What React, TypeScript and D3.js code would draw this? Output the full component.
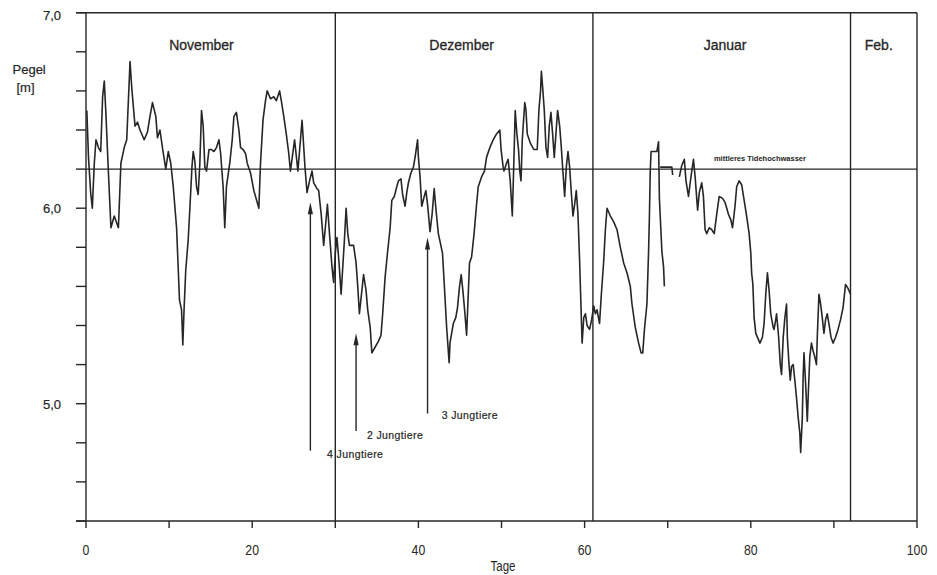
import {useEffect, useRef} from "react";
import * as d3 from "d3";

// Pegel (m) against day; null marks a break in the record
const pegel: ([number, number] | null)[] = [
    [0.1, 6.50], [0.3, 6.26], [0.56, 6.08], [0.76, 6.00], [1.0, 6.23], [1.2, 6.35], [1.5, 6.31], [1.77, 6.29],
    [2.0, 6.57], [2.2, 6.65], [2.4, 6.48], [2.7, 6.18], [3.0, 5.90], [3.4, 5.96], [3.9, 5.90], [4.2, 6.23],
    [4.6, 6.31], [4.9, 6.35], [5.1, 6.55], [5.3, 6.75], [5.5, 6.62], [5.9, 6.42], [6.2, 6.44], [6.5, 6.40],
    [7.0, 6.35], [7.4, 6.39], [7.7, 6.47], [8.0, 6.54], [8.4, 6.47], [8.6, 6.36], [8.9, 6.40], [9.2, 6.31],
    [9.6, 6.20], [9.9, 6.29], [10.2, 6.23], [10.5, 6.11], [10.9, 5.90], [11.25, 5.53], [11.5, 5.48], [11.65, 5.30],
    [11.8, 5.48], [12.0, 5.68], [12.3, 5.84], [12.5, 6.00], [12.75, 6.21], [12.9, 6.29], [13.1, 6.24], [13.3, 6.11],
    [13.5, 6.07], [13.7, 6.23], [13.9, 6.50], [14.1, 6.42], [14.3, 6.21], [14.5, 6.19], [14.8, 6.30], [15.1, 6.30],
    [15.4, 6.29], [15.7, 6.31], [16.0, 6.35], [16.2, 6.28], [16.5, 6.11], [16.7, 5.90], [16.9, 6.11], [17.3, 6.23],
    [17.6, 6.35], [17.8, 6.47], [18.1, 6.49], [18.4, 6.40], [18.6, 6.31], [18.9, 6.30], [19.2, 6.28], [19.4, 6.23],
    [19.8, 6.18], [20.2, 6.09], [20.6, 6.03], [20.8, 6.00], [21.0, 6.23], [21.3, 6.45], [21.6, 6.55], [21.8, 6.60],
    [22.2, 6.56], [22.6, 6.57], [22.9, 6.55], [23.3, 6.60], [23.5, 6.55], [23.8, 6.47], [24.1, 6.38], [24.4, 6.28],
    [24.6, 6.19], [25.1, 6.35], [25.5, 6.19], [26.0, 6.45], [26.35, 6.21], [26.6, 6.08], [26.9, 6.14], [27.2, 6.19],
    [27.4, 6.13], [27.8, 6.10], [28.0, 6.09], [28.3, 5.97], [28.6, 5.81], [28.8, 5.90], [29.05, 6.02], [29.3, 5.87],
    [29.6, 5.70], [29.8, 5.62], [30.0, 5.77], [30.2, 5.85], [30.45, 5.72], [30.7, 5.56], [30.9, 5.70], [31.1, 5.84],
    [31.3, 6.00], [31.5, 5.87], [31.7, 5.81], [32.2, 5.81], [32.5, 5.72], [32.7, 5.60], [32.9, 5.46], [33.1, 5.54],
    [33.4, 5.66], [33.7, 5.58], [33.9, 5.48], [34.2, 5.39], [34.4, 5.26], [34.8, 5.29], [35.2, 5.32], [35.5, 5.35],
    [35.7, 5.46], [36.0, 5.65], [36.3, 5.78], [36.6, 5.90], [36.8, 6.04], [37.1, 6.06], [37.4, 6.11], [37.6, 6.14],
    [37.9, 6.15], [38.1, 6.07], [38.4, 6.01], [38.6, 6.08], [38.8, 6.13], [39.1, 6.18], [39.4, 6.21], [39.6, 6.26],
    [39.9, 6.35], [40.0, 6.26], [40.2, 6.16], [40.4, 6.01], [40.7, 6.06], [40.9, 6.09], [41.1, 6.02], [41.4, 5.88],
    [41.65, 5.97], [41.9, 6.10], [42.1, 6.00], [42.4, 5.87], [42.6, 5.83], [42.9, 5.77], [43.1, 5.62], [43.4, 5.39],
    [43.7, 5.21], [43.8, 5.31], [44.0, 5.36], [44.2, 5.41], [44.5, 5.44], [44.7, 5.49], [44.95, 5.60], [45.15, 5.66],
    [45.35, 5.58], [45.6, 5.46], [45.8, 5.35], [46.0, 5.56], [46.15, 5.72], [46.4, 5.75], [46.7, 5.87], [47.0, 6.02],
    [47.2, 6.11], [47.6, 6.16], [47.95, 6.19], [48.2, 6.26], [48.6, 6.31], [49.0, 6.35], [49.4, 6.38], [49.8, 6.40],
    [49.95, 6.30], [50.2, 6.21], [50.3, 6.19], [50.6, 6.23], [50.8, 6.25], [51.05, 6.14], [51.3, 5.96], [51.45, 6.18],
    [51.65, 6.50], [51.85, 6.38], [52.05, 6.30], [52.2, 6.19], [52.35, 6.14], [52.5, 6.35], [52.8, 6.54], [52.95, 6.50],
    [53.1, 6.38], [53.5, 6.33], [53.9, 6.30], [54.3, 6.30], [54.5, 6.50], [54.7, 6.60], [54.8, 6.70], [54.95, 6.62],
    [55.15, 6.50], [55.35, 6.31], [55.55, 6.26], [55.75, 6.42], [55.95, 6.49], [56.15, 6.38], [56.35, 6.26], [56.55, 6.38],
    [56.75, 6.50], [57.0, 6.42], [57.2, 6.31], [57.4, 6.18], [57.6, 6.06], [57.8, 6.21], [58.0, 6.29], [58.2, 6.21],
    [58.4, 6.08], [58.6, 5.96], [58.8, 6.02], [59.0, 6.09], [59.2, 5.97], [59.4, 5.73], [59.6, 5.45], [59.7, 5.31],
    [59.9, 5.44], [60.1, 5.46], [60.3, 5.40], [60.6, 5.38], [60.85, 5.43], [61.1, 5.50], [61.3, 5.46], [61.5, 5.48],
    [61.8, 5.41], [62.0, 5.55], [62.3, 5.73], [62.5, 5.89], [62.7, 6.00], [63.1, 5.96], [63.5, 5.93], [63.9, 5.89],
    [64.3, 5.80], [64.7, 5.72], [65.1, 5.67], [65.5, 5.60], [65.7, 5.51], [66.1, 5.39], [66.5, 5.31], [66.8, 5.26],
    [67.0, 5.26], [67.2, 5.38], [67.5, 5.51], [67.7, 5.78], [67.8, 5.96], [67.9, 6.19], [68.0, 6.29], [68.7, 6.29],
    [68.9, 6.34], [69.0, 6.05], [69.3, 5.78], [69.5, 5.70], [69.6, 5.60],
    null,
    [69.1, 6.21], [70.5, 6.21], [70.6, 6.17],
    null,
    [71.4, 6.16], [71.7, 6.22], [72.0, 6.25], [72.2, 6.14], [72.5, 6.06], [72.8, 6.16], [73.1, 6.25], [73.3, 6.16],
    [73.6, 5.99], [73.8, 6.08], [74.1, 6.13], [74.3, 6.06], [74.5, 5.89], [74.7, 5.87], [75.0, 5.90], [75.3, 5.89],
    [75.6, 5.87], [75.9, 5.97], [76.2, 6.06], [76.6, 6.05], [76.9, 6.03], [77.3, 5.97], [77.6, 5.94], [77.8, 5.90],
    [78.1, 6.01], [78.3, 6.11], [78.6, 6.14], [78.9, 6.12], [79.2, 6.04], [79.5, 5.96], [79.8, 5.87], [80.0, 5.77],
    [80.1, 5.67], [80.25, 5.61], [80.4, 5.44], [80.6, 5.36], [80.9, 5.33], [81.1, 5.31], [81.4, 5.34], [81.6, 5.41],
    [81.8, 5.56], [82.0, 5.67], [82.2, 5.58], [82.4, 5.46], [82.7, 5.39], [82.8, 5.38], [83.0, 5.43], [83.1, 5.46],
    [83.35, 5.34], [83.55, 5.20], [83.7, 5.15], [83.9, 5.34], [84.1, 5.44], [84.3, 5.51], [84.4, 5.34], [84.6, 5.20],
    [84.75, 5.12], [84.9, 5.19], [85.1, 5.20], [85.3, 5.12], [85.5, 5.03], [85.7, 4.93], [85.9, 4.85], [86.0, 4.75],
    [86.2, 4.93], [86.3, 5.14], [86.4, 5.26], [86.6, 5.10], [86.8, 4.91], [86.9, 5.03], [87.1, 5.24], [87.3, 5.31],
    [87.5, 5.27], [87.7, 5.24], [87.9, 5.20], [88.0, 5.34], [88.2, 5.56], [88.4, 5.51], [88.6, 5.44], [88.8, 5.36],
    [89.0, 5.43], [89.2, 5.46], [89.4, 5.41], [89.65, 5.34], [89.9, 5.31], [90.2, 5.34], [90.5, 5.38], [90.8, 5.43],
    [91.1, 5.49], [91.4, 5.61], [91.7, 5.59], [92.0, 5.56],
];

const xTicks = [0, 10, 20, 30, 40, 50, 60, 70, 80, 90, 100];
const xLabels = [0, 20, 40, 60, 80, 100];
const yTicks = [4.4, 4.6, 4.8, 5.0, 5.2, 5.4, 5.6, 5.8, 6.0, 6.2, 6.4, 6.6, 6.8, 7.0];
const yLabels = [5.0, 6.0, 7.0];

const monthBreaks = [30, 61, 92];
const monthNames = ["November", "Dezember", "Januar", "Feb."];
const monthLabelDays = [13.9, 45.2, 76.9, 95.4];

const mthw = 6.2;
const mthwLabel = "mittleres Tidehochwasser";

// arrows: day, head value, tail value, label start day, label baseline value
const arrowDays = [27.0, 32.5, 41.1];
const arrowHeads = [6.03, 5.36, 5.85];
const arrowTails = [4.76, 4.86, 4.95];
const arrowLabels = ["4 Jungtiere", "2 Jungtiere", "3 Jungtiere"];
const arrowLabelDays = [29.0, 33.8, 42.8];
const arrowLabelValues = [4.72, 4.82, 4.92];

const FONT = "'Liberation Sans', Arial, Helvetica, sans-serif";
const INK = "#262626";

export default function App() {
    const svgRef = useRef<SVGSVGElement | null>(null);

    useEffect(() => {
        if (!svgRef.current) return;
        const svg = d3.select(svgRef.current);
        svg.selectAll("*").remove();

        const x = d3.scaleLinear().domain([0, 100]).range([86, 917]);
        const y = d3.scaleLinear().domain([4.4, 7.0]).range([521, 12.7]);

        svg.append("rect").attr("width", 937).attr("height", 575).attr("fill", "#fff");

        const g = svg.append("g").attr("stroke", INK).attr("stroke-width", 1.4).attr("fill", "none");

        // frame
        g.append("line").attr("x1", x(0) - 10).attr("x2", x(100)).attr("y1", y(7)).attr("y2", y(7));
        g.append("line").attr("x1", x(0) - 10).attr("x2", x(100)).attr("y1", y(4.4)).attr("y2", y(4.4));
        g.append("line").attr("x1", x(0)).attr("x2", x(0)).attr("y1", y(7)).attr("y2", y(4.4));
        g.append("line").attr("x1", x(100)).attr("x2", x(100)).attr("y1", y(7)).attr("y2", y(4.4));

        // y ticks
        yTicks.forEach(t => {
            g.append("line").attr("x1", x(0) - 10).attr("x2", x(0)).attr("y1", y(t)).attr("y2", y(t));
        });
        // x ticks
        xTicks.forEach(t => {
            g.append("line").attr("x1", x(t)).attr("x2", x(t)).attr("y1", y(4.4)).attr("y2", y(4.4) + 7);
        });

        // month dividers
        monthBreaks.forEach(m => {
            g.append("line").attr("x1", x(m)).attr("x2", x(m)).attr("y1", y(7)).attr("y2", y(4.4));
        });

        // mean high tide line
        g.append("line").attr("x1", x(0)).attr("x2", x(100)).attr("y1", y(mthw)).attr("y2", y(mthw));

        // water level
        const line = d3.line<[number, number] | null>()
            .defined(d => d !== null)
            .x(d => x((d as [number, number])[0]))
            .y(d => y((d as [number, number])[1]))
            .curve(d3.curveLinear);
        g.append("path").datum(pegel).attr("d", line).attr("stroke-width", 1.6).attr("stroke-linejoin", "round");

        // arrows
        arrowDays.forEach((d, i) => {
            const ax = x(d);
            const hy = y(arrowHeads[i]);
            g.append("line").attr("x1", ax).attr("x2", ax).attr("y1", hy + 8).attr("y2", y(arrowTails[i]));
            svg.append("path")
                .attr("d", `M${ax},${hy} L${ax - 2.6},${hy + 12} L${ax + 2.6},${hy + 12} Z`)
                .attr("fill", INK);
            svg.append("text")
                .attr("x", x(arrowLabelDays[i])).attr("y", y(arrowLabelValues[i]))
                .attr("font-family", FONT).attr("font-size", 10.5).attr("fill", INK)
                .attr("letter-spacing", 0.4).attr("stroke", INK).attr("stroke-width", 0.2)
                .text(arrowLabels[i]);
        });

        // texts
        const txt = svg.append("g").attr("fill", INK).attr("font-family", FONT);

        monthNames.forEach((m, i) => {
            txt.append("text").attr("x", x(monthLabelDays[i])).attr("y", 50)
                .attr("text-anchor", "middle").attr("font-size", 14)
                .attr("stroke", INK).attr("stroke-width", 0.3).text(m);
        });

        txt.append("text").attr("x", x(81.1)).attr("y", y(6.24))
            .attr("text-anchor", "middle").attr("font-size", 7.5).attr("font-weight", "bold")
            .text(mthwLabel);

        yLabels.forEach(v => {
            txt.append("text").attr("x", 61).attr("y", y(v) + (v === 7 ? 7 : 5))
                .attr("text-anchor", "end").attr("font-size", 13)
                .attr("stroke", INK).attr("stroke-width", 0.2)
                .text(d3.format(".1f")(v).replace(".", ","));
        });

        txt.append("text").attr("x", 12.5).attr("y", 74).attr("font-size", 13)
            .attr("stroke", INK).attr("stroke-width", 0.2).text("Pegel");
        txt.append("text").attr("x", 16.5).attr("y", 92).attr("font-size", 13)
            .attr("stroke", INK).attr("stroke-width", 0.2).text("[m]");

        // condensed tick labels, as in the original print
        xLabels.forEach(v => {
            txt.append("text")
                .attr("transform", `translate(${x(v)},555) scale(0.82,1)`)
                .attr("text-anchor", "middle").attr("font-size", 15)
                .text(String(v));
        });
        txt.append("text")
            .attr("transform", `translate(503,571) scale(0.82,1)`)
            .attr("text-anchor", "middle").attr("font-size", 14)
            .text("Tage");
    }, []);

    return (
        <svg ref={svgRef} width={937} height={575}
             style={{position: "absolute", left: 0, top: 0, display: "block"}}></svg>
    );
}
